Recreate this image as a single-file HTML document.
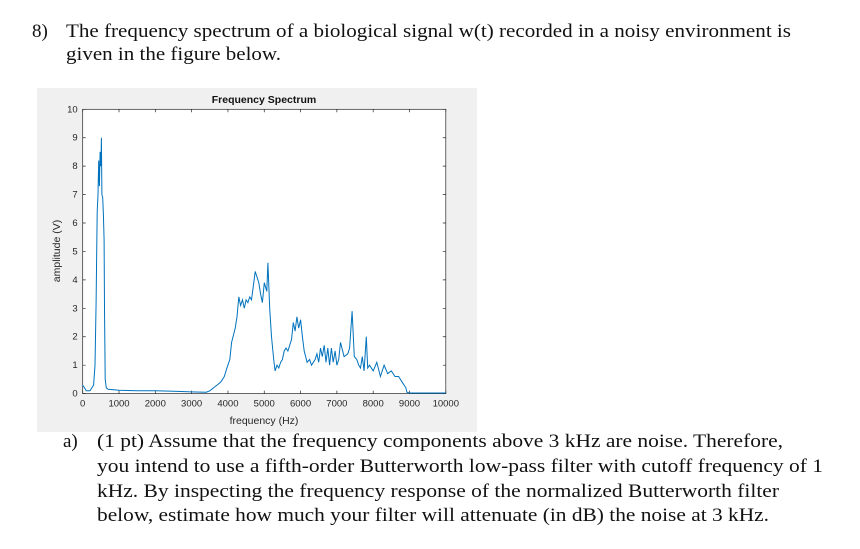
<!DOCTYPE html>
<html><head><meta charset="utf-8"><style>
body{margin:0;background:#fff;width:860px;height:549px;overflow:hidden;font-family:"Liberation Serif",serif;}
svg{position:absolute;left:0;top:0}
</style></head><body>
<svg width="860" height="549">
<g font-family="Liberation Serif, serif" font-size="19" fill="#111">
<text x="32" y="37">8)</text>
<text x="66" y="37" textLength="725" lengthAdjust="spacingAndGlyphs">The frequency spectrum of a biological signal w(t) recorded in a noisy environment is</text>
<text x="66" y="60" textLength="215" lengthAdjust="spacingAndGlyphs">given in the figure below.</text>
<text x="63" y="447">a)</text>
<text x="97" y="447" textLength="686" lengthAdjust="spacingAndGlyphs">(1 pt) Assume that the frequency components above 3 kHz are noise.  Therefore,</text>
<text x="97" y="472" textLength="726" lengthAdjust="spacingAndGlyphs">you intend to use a fifth-order Butterworth low-pass filter with cutoff frequency of 1</text>
<text x="97" y="497" textLength="682" lengthAdjust="spacingAndGlyphs">kHz.  By inspecting the frequency response of the normalized Butterworth filter</text>
<text x="97" y="521" textLength="672" lengthAdjust="spacingAndGlyphs">below, estimate how much your filter will attenuate (in dB) the noise at 3 kHz.</text>
</g>
<rect x="37" y="88" width="440" height="344" fill="#f0f0f0"/>
<rect x="82.7" y="109.3" width="363.1" height="284.3" fill="#fff" stroke="#262626" stroke-width="0.7"/>
<g id="axes" font-family="Liberation Sans, sans-serif" font-size="9.5" fill="#262626"></g>
<polyline id="series" fill="none" stroke="#0072BD" stroke-width="1"/>
<text x="264" y="103" text-anchor="middle" font-family="Liberation Sans, sans-serif" font-weight="bold" font-size="10.5" fill="#111">Frequency Spectrum</text>
<text x="264" y="424" text-anchor="middle" font-family="Liberation Sans, sans-serif" font-size="10.5" fill="#262626">frequency (Hz)</text>
<text transform="translate(60,251) rotate(-90)" text-anchor="middle" font-family="Liberation Sans, sans-serif" font-size="10.5" fill="#262626">amplitude (V)</text>
</svg>
<script>
const freqs=[0,50,100,200,300,340,370,400,420,440,460,480,500,515,530,550,570,590,600,620,650,700,1000,1500,2000,2500,3000,3400,3500,3600,3700,3800,3900,3970,4050,4100,4200,4250,4300,4350,4400,4450,4500,4550,4600,4650,4700,4750,4800,4850,4900,4950,5000,5070,5100,5150,5200,5260,5300,5350,5400,5450,5500,5550,5600,5650,5700,5750,5800,5850,5900,5950,6000,6050,6100,6180,6250,6300,6400,6450,6500,6550,6600,6650,6700,6750,6800,6850,6900,6950,7000,7050,7100,7200,7300,7350,7420,7480,7550,7600,7650,7700,7750,7810,7850,7900,8000,8100,8200,8300,8400,8500,8600,8700,8800,8900,8930,9000,9030,9100,10000];
const amps=[0.3,0.2,0.1,0.1,0.3,1.0,3.2,6.4,7.0,8.2,7.3,8.5,8.0,9.0,7.0,6.9,6.3,5.4,3.0,0.5,0.2,0.15,0.12,0.1,0.1,0.08,0.06,0.05,0.1,0.2,0.3,0.4,0.6,0.9,1.2,1.8,2.3,2.7,3.4,3.1,3.3,3.0,3.3,3.2,3.4,3.3,3.8,4.3,4.1,3.9,3.5,3.2,3.9,3.6,4.6,3.0,2.0,1.2,0.8,1.0,0.9,1.1,1.2,1.5,1.6,1.5,1.7,1.9,2.5,2.2,2.7,2.3,2.6,2.0,1.5,1.1,1.2,1.0,1.2,1.4,1.1,1.6,1.3,1.7,1.1,1.6,1.0,1.6,1.1,1.5,1.0,1.2,1.8,1.3,1.4,1.6,2.9,1.3,1.2,1.0,0.9,1.3,0.8,2.0,0.9,1.0,0.8,1.1,0.6,1.0,0.7,0.8,0.6,0.6,0.4,0.2,0.05,0.02,0.02,0.02,0.02,0.02];
const xTicks=[0,1000,2000,3000,4000,5000,6000,7000,8000,9000,10000];
const yTicks=[0,1,2,3,4,5,6,7,8,9,10];
const L=82.7,R=445.8,T=109.3,B=393.6;
function xs(v){return L+(R-L)*v/10000;}
function ys(v){return B-(B-T)*v/10;}
const NS='http://www.w3.org/2000/svg';
const ax=document.getElementById('axes');
xTicks.forEach(t=>{
  const x=xs(t);
  const l=document.createElementNS(NS,'path');
  l.setAttribute('d',`M${x},${B}V${B-3}M${x},${T}V${T+3}`);
  l.setAttribute('stroke','#262626');l.setAttribute('stroke-width','0.7');
  
  
  ax.appendChild(l);
  const tx=document.createElementNS(NS,'text');
  tx.setAttribute('x',x);tx.setAttribute('y',B+13);tx.setAttribute('text-anchor','middle');
  tx.textContent=t;
  
  
  ax.appendChild(tx);
});
yTicks.forEach(t=>{
  const y=ys(t);
  const l=document.createElementNS(NS,'path');
  l.setAttribute('d',`M${L},${y}H${L+3}M${R},${y}H${R-3}`);
  l.setAttribute('stroke','#262626');l.setAttribute('stroke-width','0.7');
  
  
  ax.appendChild(l);
  const tx=document.createElementNS(NS,'text');
  tx.setAttribute('x',L-5);tx.setAttribute('y',y+3);tx.setAttribute('text-anchor','end');
  tx.textContent=t;
  
  
  ax.appendChild(tx);
});
document.getElementById('series').setAttribute('points',freqs.map((f,i)=>xs(f).toFixed(1)+','+ys(amps[i]).toFixed(1)).join(' '));
</script>
</body></html>
